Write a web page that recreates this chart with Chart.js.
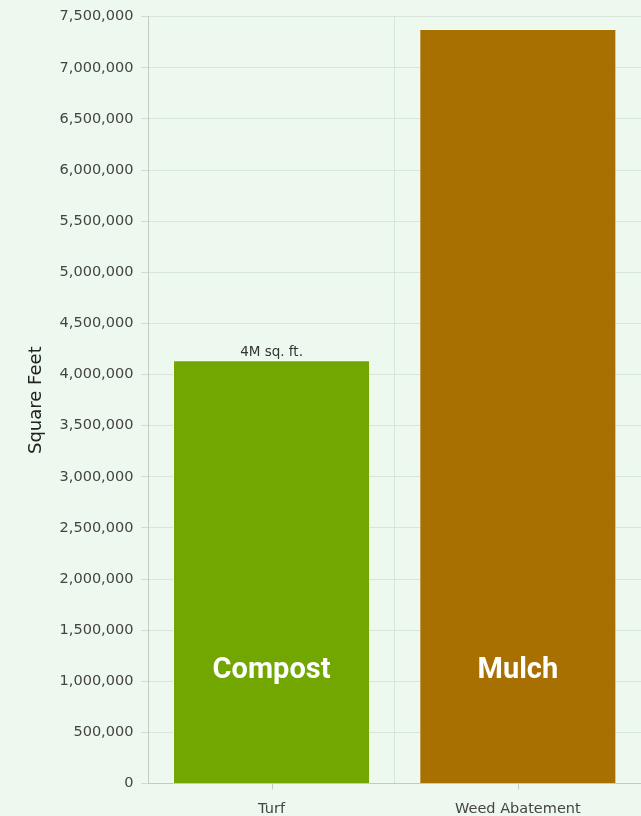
<!DOCTYPE html>
<html>
<head>
<meta charset="utf-8">
<script src="https://cdn.jsdelivr.net/npm/chart.js@4"></script>
<style>
  html, body { margin: 0; padding: 0; background: #edf8ef; }
  #wrap { width: 641px; height: 816px; }
</style>
</head>
<body>
<div id="wrap"><canvas id="c"></canvas></div>
<script>
const categories = ['Turf', 'Weed Abatement'];
const values = [4140000, 7380000];
const barColors = ['#72a600', '#a87000'];
const topLabels = ['4M sq. ft.', ''];
const insideLabels = ['Compost', 'Mulch'];
const insideLabelValue = 1100000;

const textPlugin = {
  id: 'texts',
  afterDatasetsDraw(chart) {
    const ctx = chart.ctx;
    const meta = chart.getDatasetMeta(0);
    const y = chart.scales.y;
    const x = chart.scales.x;
    ctx.save();
    // category tick marks at centers below the x axis
    ctx.strokeStyle = '#c2cac4';
    ctx.lineWidth = 1;
    categories.forEach((c, i) => {
      const px = Math.round(x.getPixelForValue(i)) + 0.5;
      ctx.beginPath();
      ctx.moveTo(px, x.top);
      ctx.lineTo(px, x.top + 6);
      ctx.stroke();
    });
    meta.data.forEach((bar, i) => {
      if (topLabels[i]) {
        ctx.fillStyle = '#333';
        ctx.font = '13.5px "DejaVu Sans"';
        ctx.textAlign = 'center';
        ctx.textBaseline = 'bottom';
        ctx.fillText(topLabels[i], bar.x, bar.y - 1);
      }
      ctx.fillStyle = '#ffffff';
      ctx.font = 'bold 29px Roboto';
      ctx.textAlign = 'center';
      ctx.textBaseline = 'middle';
      ctx.fillText(insideLabels[i], bar.x, y.getPixelForValue(insideLabelValue));
    });
    ctx.restore();
  }
};

new Chart(document.getElementById('c'), {
  type: 'bar',
  data: {
    labels: categories,
    datasets: [{
      data: values,
      backgroundColor: barColors,
      borderColor: 'rgba(255,255,255,0.45)',
      borderWidth: 1,
      barPercentage: 0.8,
      categoryPercentage: 1.0
    }]
  },
  plugins: [textPlugin],
  options: {
    responsive: true,
    maintainAspectRatio: false,
    animation: false,
    layout: { padding: { top: 6, right: 0, bottom: -19, left: 0 } },
    plugins: { legend: { display: false }, tooltip: { enabled: false } },
    scales: {
      x: {
        grid: { color: '#d8e5da', tickLength: 6, offset: true, drawTicks: false },
        border: { color: '#c2cac4' },
        ticks: { color: '#444', font: { family: 'DejaVu Sans', size: 14.5 }, padding: 17 }
      },
      y: {
        min: 0, max: 7500000,
        grid: { color: '#d8e5da', tickLength: 7, tickColor: '#cfd8d1' },
        border: { color: '#c2cac4' },
        ticks: {
          stepSize: 500000,
          color: '#444',
          font: { family: 'DejaVu Sans', size: 14.5 },
          padding: 8,
          callback: v => v.toLocaleString('en-US')
        },
        title: { display: true, text: 'Square Feet', color: '#222', font: { family: 'DejaVu Sans', size: 18 }, padding: { top: 26, bottom: 4 } }
      }
    }
  }
});
</script>
</body>
</html>
